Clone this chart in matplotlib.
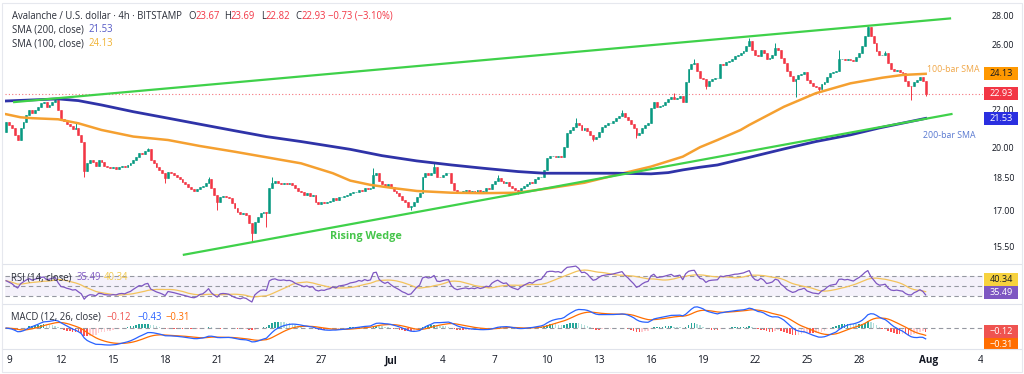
import numpy as np
import pandas as pd
import matplotlib
matplotlib.use("Agg")
import matplotlib.pyplot as plt
import matplotlib.dates as mdates
from matplotlib.patches import Rectangle
from matplotlib.lines import Line2D
from matplotlib.ticker import NullLocator, NullFormatter, FixedLocator, FixedFormatter

plt.rcParams['font.family'] = ['Open Sans', 'DejaVu Sans']

# ---------------- data ----------------
bar_start = "2025-06-08 20:00"
bar_freq = "4h"
first_open = 20.81
close = [
    21.35,
    21.17, 20.99, 20.64, 20.37, 20.99, 21.35,   # Jun 9
    21.72, 22.00, 21.81, 22.00, 22.18, 22.38,   # Jun 10
    22.47, 22.18, 22.28, 22.47, 22.57, 22.00,   # Jun 11
    21.48, 21.40, 21.22, 21.11, 20.94, 20.99,   # Jun 12
    20.64, 20.28, 18.80, 19.19, 19.36, 19.28,   # Jun 13
    19.06, 19.36, 19.28, 19.06, 19.00, 18.95,   # Jun 14
    19.00, 18.93, 19.03, 19.06, 19.00, 19.11,   # Jun 15
    19.19, 19.36, 19.52, 19.69, 19.66, 19.83,   # Jun 16
    19.90, 19.36, 19.19, 19.00, 18.87, 18.71,   # Jun 17
    18.47, 18.79, 18.71, 18.63, 18.52, 18.42,   # Jun 18
    18.31, 18.21, 18.08, 17.96, 17.90, 17.96,   # Jun 19
    18.08, 18.11, 18.24, 18.42, 18.00, 17.70,   # Jun 20
    17.40, 17.62, 17.65, 17.62, 17.55, 17.33,   # Jun 21
    17.11, 16.96, 16.86, 16.92, 16.81, 16.46,   # Jun 22
    16.05, 16.53, 16.74, 16.92, 16.96, 16.89,   # Jun 23
    18.00, 18.27, 18.36, 18.24, 18.21, 18.27,   # Jun 24
    18.21, 18.24, 18.16, 18.00, 17.90, 17.81,   # Jun 25
    17.70, 17.78, 17.65, 17.70, 17.40, 17.30,   # Jun 26
    17.36, 17.33, 17.40, 17.44, 17.55, 17.47,   # Jun 27
    17.59, 17.62, 17.65, 17.70, 17.78, 17.81,   # Jun 28
    17.85, 17.93, 17.90, 18.00, 17.96, 18.00,   # Jun 29
    18.63, 18.71, 18.36, 18.21, 18.11, 18.21,   # Jun 30
    18.05, 17.90, 17.78, 17.65, 17.47, 17.36,   # Jul 1
    17.18, 17.21, 17.40, 17.62, 17.78, 18.55,   # Jul 2
    18.71, 18.63, 18.71, 19.00, 18.55, 18.52,   # Jul 3
    18.63, 18.71, 18.74, 18.24, 17.93, 17.78,   # Jul 4
    17.85, 17.90, 17.93, 17.85, 17.90, 17.85,   # Jul 5
    17.93, 17.85, 17.90, 18.00, 17.96, 18.21,   # Jul 6
    18.36, 18.47, 18.36, 18.27, 18.31, 18.11,   # Jul 7
    18.00, 17.93, 17.85, 18.00, 18.11, 18.21,   # Jul 8
    18.31, 18.27, 18.42, 18.52, 18.55, 18.87,   # Jul 9
    19.44, 19.55, 19.55, 19.52, 19.57, 19.52,   # Jul 10
    20.03, 20.76, 20.90, 21.08, 21.30, 21.17,   # Jul 11
    20.90, 20.99, 20.87, 20.64, 20.41, 20.51,   # Jul 12
    20.81, 21.08, 21.17, 21.26, 21.30, 21.40,   # Jul 13
    21.53, 21.66, 21.81, 21.59, 21.44, 21.22,   # Jul 14
    20.99, 20.64, 20.76, 20.99, 21.17, 21.26,   # Jul 15
    22.10, 22.45, 22.15, 22.22, 22.30, 22.45,   # Jul 16
    22.62, 22.75, 22.60, 22.70, 22.80, 22.45,   # Jul 17
    23.61, 24.41, 24.72, 24.83, 24.31, 23.90,   # Jul 18
    23.81, 23.37, 23.71, 23.81, 23.85, 23.90,   # Jul 19
    24.72, 24.65, 24.87, 24.93, 25.08, 25.25,   # Jul 20
    25.29, 25.42, 25.57, 25.89, 26.22, 25.67,   # Jul 21
    25.35, 25.25, 25.67, 25.46, 25.04, 25.14,   # Jul 22
    25.29, 25.78, 25.67, 25.14, 24.83, 24.31,   # Jul 23
    24.00, 23.71, 23.81, 24.04, 24.11, 24.25,   # Jul 24
    23.77, 23.57, 23.37, 23.31, 23.21, 23.51,   # Jul 25
    23.65, 23.96, 24.17, 24.25, 24.31, 25.04,   # Jul 26
    25.08, 25.00, 25.08, 25.00, 24.93, 25.20,   # Jul 27
    25.46, 25.89, 26.55, 27.18, 26.55, 26.11,   # Jul 28
    25.57, 25.29, 25.35, 25.46, 24.83, 24.41,   # Jul 29
    24.31, 24.37, 24.25, 24.17, 23.71, 23.41,   # Jul 30
    23.37, 23.61, 23.75, 23.95, 23.67, 22.93,   # Jul 31
]
# notable wicks (bar index -> price)
wick_high = {17: 22.70, 24: 21.35, 49: 19.98, 70: 18.55, 92: 18.55, 127: 18.95,
             148: 19.20, 170: 18.63, 197: 21.53, 213: 22.00, 231: 22.95,
             238: 25.04, 257: 26.44, 266: 26.11, 288: 25.67, 298: 27.30,
             304: 25.57, 318: 23.69}
wick_low = {27: 18.55, 55: 18.24, 73: 17.03, 85: 15.71, 90: 16.32, 140: 17.03,
            177: 17.75, 203: 20.30, 218: 20.50, 242: 23.21, 273: 22.72,
            281: 23.05, 313: 22.55, 318: 22.82}

# moving averages (bar index -> value)
sma200_idx = [0, 9, 18, 25, 33, 44, 56, 67, 79, 90, 102, 113, 119, 130, 142, 154,
              165, 177, 186, 200, 211, 223, 229, 234, 240, 246, 258, 269, 280, 292, 302, 318]
sma200_val = [22.51, 22.57, 22.63, 22.53, 22.28, 21.90, 21.54, 21.21, 20.86, 20.55,
              20.29, 20.03, 19.89, 19.57, 19.31, 19.11, 18.95, 18.79, 18.71, 18.71,
              18.71, 18.68, 18.74, 18.87, 19.00, 19.11, 19.52, 19.91, 20.29, 20.64,
              21.01, 21.53]
sma100_idx = [0, 5, 9, 18, 25, 33, 44, 56, 67, 79, 90, 102, 113, 119, 126, 134, 142,
              154, 165, 177, 188, 200, 211, 223, 234, 240, 246, 254, 257, 269, 280,
              292, 303, 310, 318]
sma100_val = [21.76, 21.59, 21.54, 21.48, 21.26, 20.90, 20.55, 20.37, 20.06, 19.77,
              19.49, 19.19, 18.71, 18.36, 18.16, 18.01, 17.88, 17.80, 17.78, 17.80,
              18.01, 18.26, 18.63, 19.03, 19.52, 20.00, 20.37, 20.90, 21.17, 22.18,
              22.96, 23.55, 23.89, 24.06, 24.13]

# wedge trendlines: (bar index, price)
upper_line = [(2.4, 22.44), (326.8, 27.81)]
lower_line = [(61.1, 15.18), (327.3, 21.78)]

# displayed values
last_price = 22.93
sma200_last, sma100_last = 21.53, 24.13
rsi_last, rsi_ma_last = 35.49, 40.34
macd_hist_last, macd_last, macd_sig_last = -0.12, -0.43, -0.31

price_ticks = [15.5, 17.0, 18.5, 20.0, 22.0, 26.0, 28.0]
date_ticks = ["2025-06-09", "2025-06-12", "2025-06-15", "2025-06-18", "2025-06-21",
              "2025-06-24", "2025-06-27", "2025-07-01", "2025-07-04", "2025-07-07",
              "2025-07-10", "2025-07-13", "2025-07-16", "2025-07-19", "2025-07-22",
              "2025-07-25", "2025-07-28", "2025-08-01", "2025-08-04"]
date_labels = ["9", "12", "15", "18", "21", "24", "27", "Jul", "4", "7", "10", "13",
               "16", "19", "22", "25", "28", "Aug", "4"]

# ---------------- derived series ----------------
close = np.array(close)
n = len(close)
times = pd.date_range(bar_start, periods=n, freq=bar_freq)
t = mdates.date2num(times)
step = t[1] - t[0]
opens = np.concatenate([[first_open], close[:-1]])
highs = np.maximum(opens, close)
lows = np.minimum(opens, close)
for k, v in wick_high.items():
    highs[k] = v
for k, v in wick_low.items():
    lows[k] = v

def t_at(idx):
    return t[0] + np.asarray(idx, dtype=float) * step

# RSI (Wilder)
delta = np.diff(close)
gain = np.where(delta > 0, delta, 0.0)
loss = np.where(delta < 0, -delta, 0.0)
seed = np.mean(np.abs(delta[:14])) / 2
ag, al = seed * 1.2, seed * 0.8
rsi = [60.0]
for g, l in zip(gain, loss):
    ag = (ag * 13 + g) / 14
    al = (al * 13 + l) / 14
    rsi.append(100 - 100 / (1 + ag / al))
rsi = pd.Series(rsi)
rsi_ma = rsi.rolling(14, min_periods=1).mean()

cs = pd.Series(close)
macd = cs.ewm(span=12, adjust=False).mean() - cs.ewm(span=26, adjust=False).mean()
signal = macd.ewm(span=9, adjust=False).mean()
hist = (macd - signal).values
hcol = []
for i, h in enumerate(hist):
    prev = hist[i - 1] if i > 0 else h
    if h >= 0:
        hcol.append('#26a69a' if h > prev else '#b2dfdb')
    else:
        hcol.append('#ffcdd2' if h > prev else '#ff5252')

# ---------------- figure ----------------
W, H = 1024, 374
fig = plt.figure(figsize=(W / 100, H / 100), dpi=100)
fig.patch.set_facecolor('white')

L, R = 5, 983
def fax(top, bottom):
    return fig.add_axes([L / W, 1 - bottom / H, (R - L) / W, (bottom - top) / H])

ax1 = fax(4, 263)
ax2 = fax(265, 303)
ax3 = fax(305, 348)

t0 = mdates.date2num(pd.Timestamp("2025-06-09"))
xl = (t0 - 4 / 17.35, t0 + 974 / 17.35)
for ax in (ax1, ax2, ax3):
    ax.set_xlim(*xl)
    for s in ax.spines.values():
        s.set_visible(False)
    ax.set_facecolor('none')
    ax.tick_params(length=0)
    ax.xaxis.set_major_locator(NullLocator())

GREEN, RED = '#089981', '#f23645'
DARK = '#2a2e39'
# --- price panel ---
ax1.set_yscale('log')
ax1.set_ylim(14.87, 28.85)
ax1.yaxis.set_minor_locator(NullLocator())
ax1.yaxis.set_minor_formatter(NullFormatter())
ax1.yaxis.tick_right()
ax1.yaxis.set_major_locator(FixedLocator(price_ticks))
ax1.yaxis.set_major_formatter(FixedFormatter([f"{v:.2f}" for v in price_ticks]))
ax1.tick_params(axis='y', labelsize=6.3, labelcolor='#131722', pad=6.3)

cols = np.where(close >= opens, GREEN, RED)
ax1.vlines(t, lows, highs, colors=cols, lw=0.7, zorder=3)
ax1.bar(t, np.abs(close - opens), bottom=np.minimum(opens, close), width=step * 0.65,
        color=cols, edgecolor=cols, linewidth=0.4, zorder=4)

ax1.plot(t_at(sma100_idx), sma100_val, color='#f5a030', lw=1.8, zorder=5)
ax1.plot(t_at(sma200_idx), sma200_val, color='#2f33a8', lw=2.0, zorder=5)
for seg in (upper_line, lower_line):
    ax1.plot(t_at([seg[0][0], seg[1][0]]), [seg[0][1], seg[1][1]],
             color='#3fd14a', lw=1.6, zorder=6, solid_capstyle='butt')
ax1.axhline(last_price, color=RED, lw=0.8, ls=(0, (1, 2)), alpha=0.7, zorder=2)

ax1.text(t_at(124.5), 15.92, "Rising Wedge", color='#45c54a', fontsize=7.8,
         ha='center', va='center', fontweight='bold', zorder=7)
ax1.text(t_at(318.5), 24.40, "100-bar SMA", color='#f0a646', fontsize=6.3,
         ha='left', va='center', zorder=7)
ax1.text(t_at(317.2), 20.63, "200-bar SMA", color='#5878d0', fontsize=6.3,
         ha='left', va='center', zorder=7)

# --- RSI panel ---
ax2.set_ylim(15.4, 91.5)
ax2.yaxis.set_major_locator(NullLocator())
ax2.axhspan(30, 70, color='#7e57c2', alpha=0.08, lw=0)
for lv in (70, 50, 30):
    ax2.axhline(lv, color='#9598a1', lw=0.8, ls=(0, (4, 3)))
ax2.plot(t, rsi_ma, color='#f3c35c', lw=0.9)
ax2.plot(t, rsi, color='#7e57c2', lw=0.9)

# --- MACD panel ---
ax3.set_ylim(-0.8, 0.93)
ax3.yaxis.set_major_locator(NullLocator())
ax3.axhline(0, color='#9598a1', lw=0.8, ls=(0, (4, 3)))
ax3.bar(t, hist, width=step * 0.55, color=hcol, lw=0)
ax3.plot(t, signal, color='#ff6d00', lw=0.9)
ax3.plot(t, macd, color='#2962ff', lw=0.9)
ax3.xaxis.set_major_locator(FixedLocator(mdates.date2num(pd.to_datetime(date_ticks))))
ax3.xaxis.set_major_formatter(FixedFormatter(date_labels))
ax3.tick_params(axis='x', labelsize=7.2, labelcolor='#131722', pad=5.3)
for lab in ax3.get_xticklabels():
    if lab.get_text() in ("Jul", "Aug"):
        lab.set_fontweight('bold')

# --- separators / border ---
for yy in (264, 304, 349):
    fig.add_artist(Line2D([2 / W, 1022 / W], [1 - yy / H, 1 - yy / H],
                          color='#e0e3eb', lw=0.8, zorder=9))
fig.add_artist(Rectangle((2 / W, 2 / H), 1020 / W, 369 / H, transform=fig.transFigure,
                         fill=False, edgecolor='#e6e8ee', lw=0.8, zorder=9))

# --- right-side value badges ---
def badge(ax, value, text, bg, fg, dy=0.0):
    yd = ax.transData.transform((xl[0], value))[1] - dy
    fig.add_artist(Rectangle((984 / W, (yd - 6.5) / H), 34 / W, 13 / H,
                             transform=fig.transFigure, facecolor=bg,
                             edgecolor='none', zorder=5))
    fig.text(1001 / W, yd / H, text, ha='center', va='center', color=fg,
             fontsize=6.6, zorder=6)

badge(ax1, sma100_last, f"{sma100_last:.2f}", '#ff9800', '#131722')
badge(ax1, last_price, f"{last_price:.2f}", '#f23645', 'white')
badge(ax1, sma200_last, f"{sma200_last:.2f}", '#2a2fe0', 'white')
badge(ax2, rsi_last, f"{rsi_last:.2f}", '#7e57c2', 'white')
badge(ax2, rsi_last, f"{rsi_ma_last:.2f}", '#f7d23e', '#131722', dy=-13)
badge(ax3, macd_hist_last, f"\u2212{abs(macd_hist_last):.2f}", '#ef5350', 'white')
badge(ax3, macd_hist_last, f"\u2212{abs(macd_sig_last):.2f}", '#ff6d00', 'white', dy=13)
fig.add_artist(Rectangle((983 / W, 0.5 / H), 40 / W, (H - 349.5) / H,
                         transform=fig.transFigure, facecolor='white',
                         edgecolor='none', zorder=8))

# --- legend texts (multi-colour) ---
renderer = fig.canvas.get_renderer()
title_main = "Avalanche / U.S. dollar \u00b7 4h \u00b7 BITSTAMP"
probe = fig.text(0, 0, title_main, fontsize=10)
LEG = 10 * 170.0 / probe.get_window_extent(renderer).width
probe.remove()
LEG = min(LEG, 7.2)

def rich(x_px, y_px, parts, size=None):
    size = LEG if size is None else size
    x = x_px
    for s, c in parts:
        tt = fig.text(x / W, 1 - y_px / H, s, color=c, fontsize=size,
                      ha='left', va='baseline', zorder=10)
        x += tt.get_window_extent(renderer).width
    return x

rich(11.7, 19, [(title_main, DARK)])
rich(188, 19, [("O", DARK), ("23.67", RED)])
rich(224, 19, [("H", DARK), ("23.69", RED)])
rich(261, 19, [("L", DARK), ("22.82", RED)])
rich(295, 19, [("C", DARK), ("22.93", RED)])
rich(328, 19, [("\u22120.73 (\u22123.10%)", RED)])
rich(11.7, 32.5, [("SMA (200, close)", DARK)])
rich(88.3, 32.5, [(f"{sma200_last:.2f}", '#5458c5')])
rich(11.7, 46, [("SMA (100, close)", DARK)])
rich(88.3, 46, [(f"{sma100_last:.2f}", '#f0b232')])
rich(11, 280.5, [("RSI (14, close)", DARK)])
rich(77, 280.5, [(f"{rsi_last:.2f}", '#7e57c2')])
rich(104, 280.5, [(f"{rsi_ma_last:.2f}", '#f2c94c')])
rich(11, 319.5, [("MACD (12, 26, close)", DARK)])
rich(106.7, 319.5, [(f"\u2212{abs(macd_hist_last):.2f}", '#ef5350')])
rich(137.7, 319.5, [(f"\u2212{abs(macd_last):.2f}", '#2962ff')])
rich(166, 319.5, [(f"\u2212{abs(macd_sig_last):.2f}", '#ff6d00')])

fig.savefig("out.png", dpi=100)
